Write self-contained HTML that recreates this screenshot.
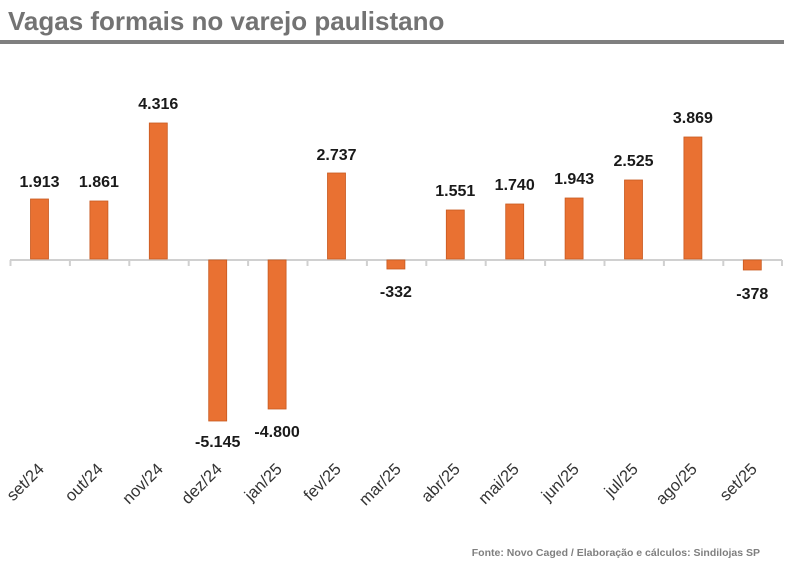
<!DOCTYPE html>
<html><head><meta charset="utf-8"><style>
body{margin:0;background:#fff}
</style></head><body>
<svg width="788" height="566" xmlns="http://www.w3.org/2000/svg" font-family="Liberation Sans, sans-serif">
<text x="8" y="30" font-size="26" font-weight="bold" fill="#737373">Vagas formais no varejo paulistano</text>
<rect x="0" y="40" width="784" height="4" fill="#7f7f7f"/>
<line x1="10" y1="260" x2="782" y2="260" stroke="#d0d0d0" stroke-width="2"/>
<g stroke="#d0d0d0" stroke-width="2">
<line x1="10.5" y1="260" x2="10.5" y2="266"/><line x1="69.9" y1="260" x2="69.9" y2="266"/><line x1="129.3" y1="260" x2="129.3" y2="266"/><line x1="188.7" y1="260" x2="188.7" y2="266"/><line x1="248.1" y1="260" x2="248.1" y2="266"/><line x1="307.5" y1="260" x2="307.5" y2="266"/><line x1="366.9" y1="260" x2="366.9" y2="266"/><line x1="426.3" y1="260" x2="426.3" y2="266"/><line x1="485.7" y1="260" x2="485.7" y2="266"/><line x1="545.1" y1="260" x2="545.1" y2="266"/><line x1="604.5" y1="260" x2="604.5" y2="266"/><line x1="663.9" y1="260" x2="663.9" y2="266"/><line x1="723.3" y1="260" x2="723.3" y2="266"/><line x1="782" y1="260" x2="782" y2="266"/>
</g>
<g fill="#e97132" stroke="#c85a20" stroke-width="0.8">
<rect x="30.5" y="199" width="18" height="60"/>
<rect x="89.9" y="201" width="18" height="58"/>
<rect x="149.3" y="123" width="18" height="136"/>
<rect x="208.7" y="260" width="18" height="161"/>
<rect x="268.1" y="260" width="18" height="149"/>
<rect x="327.5" y="173" width="18" height="86"/>
<rect x="386.9" y="260" width="18" height="9"/>
<rect x="446.3" y="210" width="18" height="49"/>
<rect x="505.7" y="204" width="18" height="55"/>
<rect x="565.1" y="198" width="18" height="61"/>
<rect x="624.5" y="180" width="18" height="79"/>
<rect x="683.9" y="137" width="18" height="122"/>
<rect x="743.3" y="260" width="18" height="10"/>
</g>
<g font-size="16" font-weight="bold" fill="#1a1a1a" text-anchor="middle">
<text x="39.5" y="187">1.913</text>
<text x="98.9" y="187">1.861</text>
<text x="158.3" y="109">4.316</text>
<text x="217.7" y="447">-5.145</text>
<text x="277.1" y="437">-4.800</text>
<text x="336.5" y="160">2.737</text>
<text x="395.9" y="297">-332</text>
<text x="455.3" y="196">1.551</text>
<text x="514.7" y="190">1.740</text>
<text x="574.1" y="184">1.943</text>
<text x="633.5" y="166">2.525</text>
<text x="692.9" y="123">3.869</text>
<text x="752.3" y="299">-378</text>
</g>
<g font-size="16.5" fill="#333" text-anchor="end">
<text transform="translate(45,470) rotate(-45)">set/24</text>
<text transform="translate(104,470) rotate(-45)">out/24</text>
<text transform="translate(164,470) rotate(-45)">nov/24</text>
<text transform="translate(223,470) rotate(-45)">dez/24</text>
<text transform="translate(283,470) rotate(-45)">jan/25</text>
<text transform="translate(342,470) rotate(-45)">fev/25</text>
<text transform="translate(402,470) rotate(-45)">mar/25</text>
<text transform="translate(461,470) rotate(-45)">abr/25</text>
<text transform="translate(520,470) rotate(-45)">mai/25</text>
<text transform="translate(580,470) rotate(-45)">jun/25</text>
<text transform="translate(639,470) rotate(-45)">jul/25</text>
<text transform="translate(698,470) rotate(-45)">ago/25</text>
<text transform="translate(758,470) rotate(-45)">set/25</text>
</g>
<text x="760" y="556" font-size="10.5" font-weight="bold" fill="#7f7f7f" text-anchor="end">Fonte: Novo Caged / Elaboração e cálculos: Sindilojas SP</text>
</svg>
</body></html>
